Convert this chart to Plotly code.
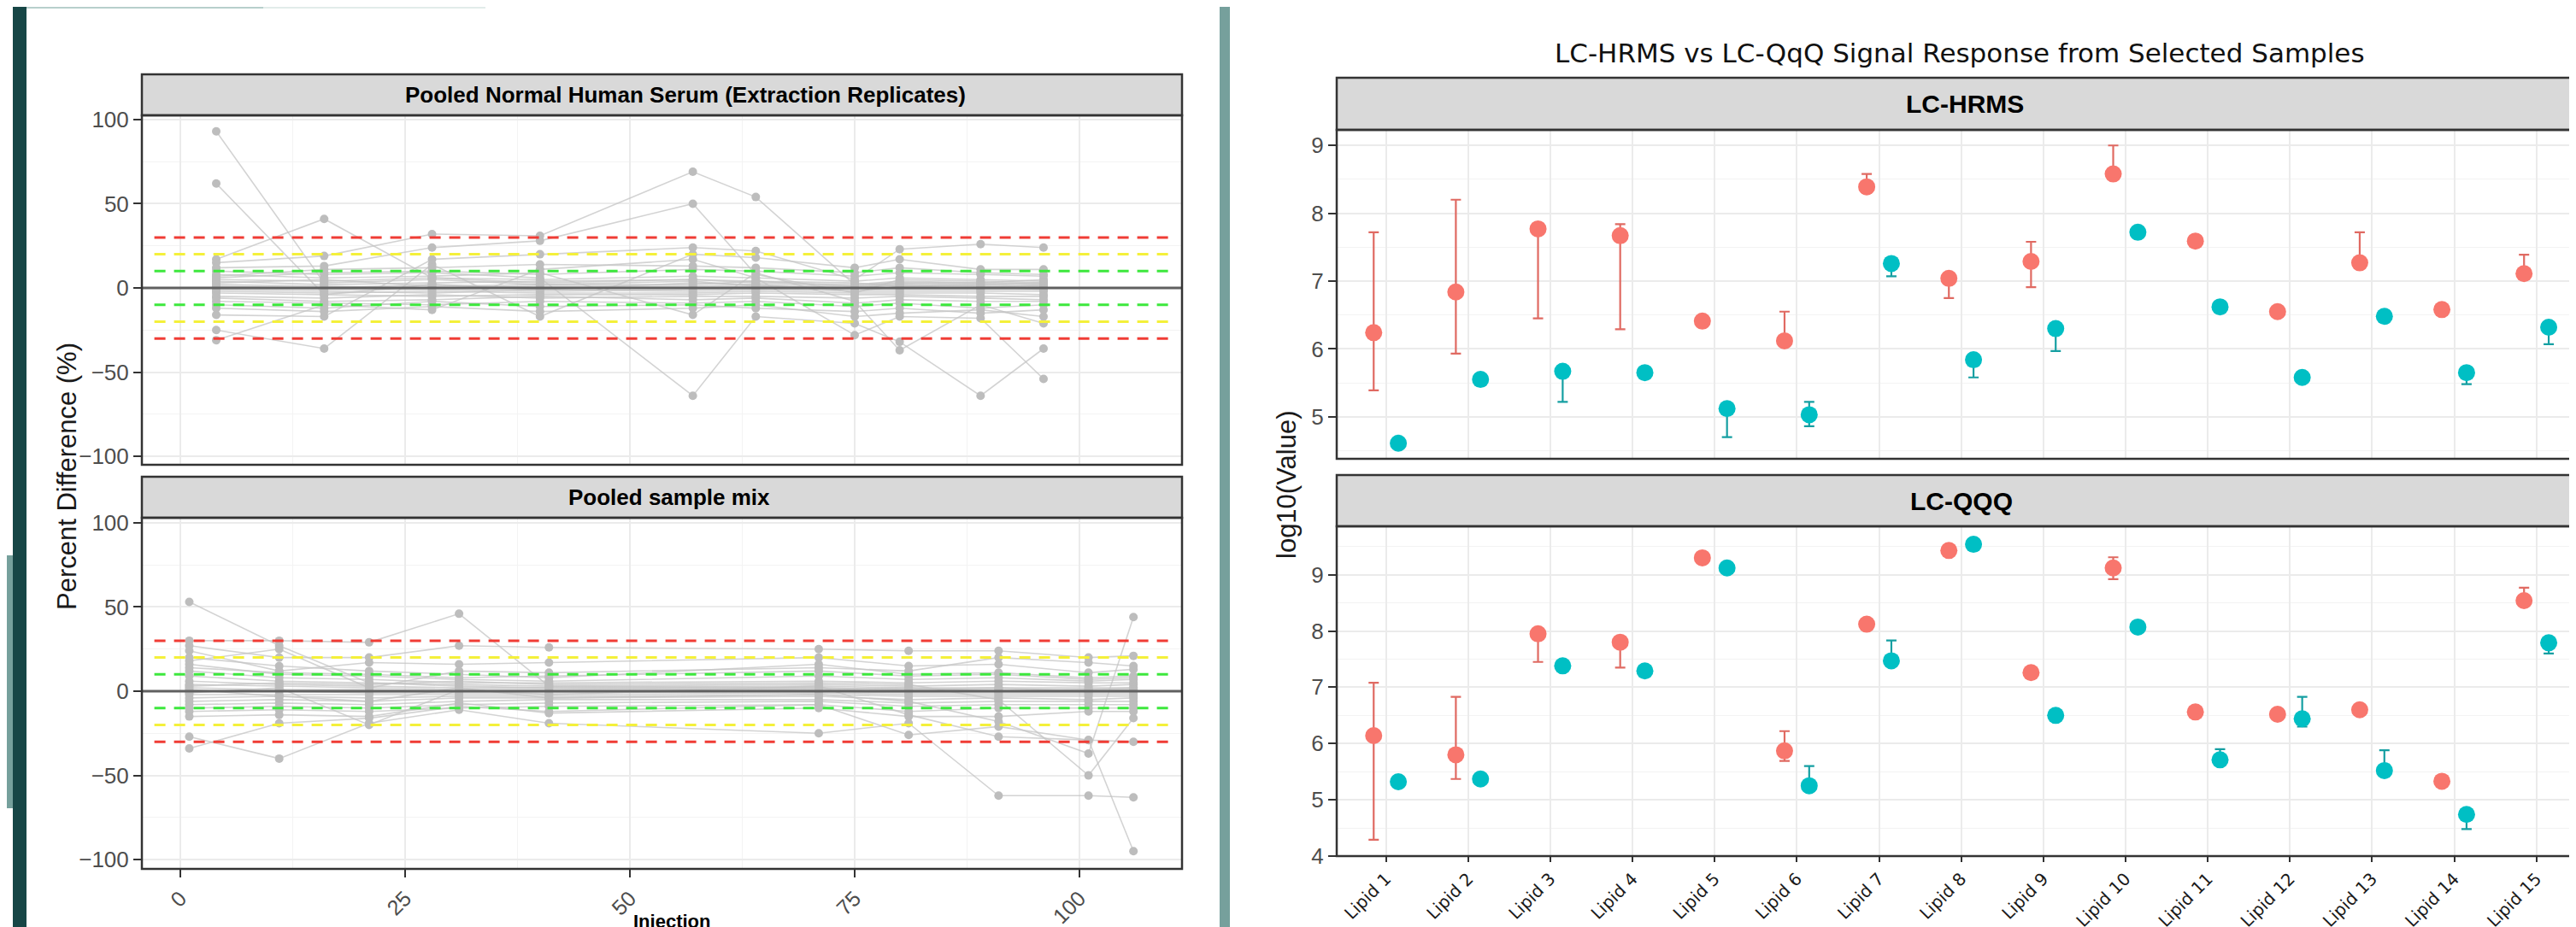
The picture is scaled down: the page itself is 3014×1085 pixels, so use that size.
import plotly.graph_objects as go

W, H = 3014, 1085


def fx(px):
    return px / W


def fy(py):
    return 1 - py / H


# ---------------- Left chart: percent difference by injection ----------------
serum_injection = [4, 16, 28, 40, 57, 64, 75, 80, 89, 96]
serum_series = [
    [93, 3, 5, 2, 4, 1, 0, 2, 1, -1],
    [62, -4, 2, -1, 3, 2, -2, 1, 0, 2],
    [17, 41, 6, 3, 5, 4, 1, 3, 2, 1],
    [15, 19, 32, 31, 69, 54, 2, 4, 3, 5],
    [12, 13, 24, 28, 50, 8, -3, 5, 4, 3],
    [-16, -17, 17, 20, 24, 22, 5, 23, 26, 24],
    [-25, -36, 14, -17, 20, 18, 12, 17, 11, 11],
    [-31, -10, -13, 11, 17, 6, -28, -17, -18, -54],
    [10, 8, 9, 6, -64, -17, -21, -32, -64, -36],
    [8, 6, 7, 9, -16, 9, -8, -37, -10, -21],
    [6, 9, 10, 8, 11, 10, 7, 9, 8, 7],
    [5, 4, 6, 5, 7, 6, 4, 6, 5, 4],
    [4, 2, 3, 4, 5, 3, 2, 3, 3, 2],
    [3, 5, 1, 2, 2, 4, 3, 1, 2, 3],
    [2, 1, 0, 1, 1, 2, 1, 2, 1, 1],
    [1, 0, 2, 0, 0, 1, 0, 0, 0, 0],
    [0, -1, -1, -2, -1, 0, -1, -1, -1, -1],
    [-1, -2, -3, -1, -2, -1, -2, -2, -2, -2],
    [-2, -3, -2, -3, -3, -2, -3, -3, -3, -4],
    [-3, -4, -5, -4, -4, -3, -4, -4, -5, -5],
    [-5, -6, -4, -6, -5, -5, -6, -5, -6, -7],
    [-6, -8, -7, -5, -7, -6, -9, -7, -8, -8],
    [-8, -9, -10, -8, -9, -8, -11, -9, -12, -10],
    [-10, -12, -8, -11, -10, -12, -14, -12, -15, -13],
    [-12, -14, -11, -14, -12, -10, -17, -15, -13, -17],
    [7, 11, 12, 14, 13, 12, 9, 12, 9, 8],
]

mix_injection = [1, 11, 21, 31, 41, 71, 81, 91, 101, 106]
mix_series = [
    [53, 27, 5, 3, 2, 1, 2, 0, 1, 2],
    [30, 30, 29, 46, 3, 2, 1, 2, 0, 1],
    [27, 20, 20, 27, 26, 25, 24, 24, 20, 21],
    [24, 12, 17, 16, 17, 20, 15, 16, 11, 13],
    [-27, -40, -19, -11, -19, -25, -19, -62, -62, -63],
    [-34, -19, -16, -9, -12, -8, -26, -21, -29, -95],
    [20, 15, 12, 10, 8, 16, 10, 11, 8, 9],
    [16, 10, 9, 7, 6, 9, 7, 8, 6, 7],
    [12, 8, 7, 5, 5, 6, 5, 6, 5, 5],
    [9, 6, 5, 4, 3, 4, 3, 4, 3, 4],
    [6, 4, 3, 2, 2, 3, 2, 2, 2, 2],
    [4, 3, 2, 1, 1, 2, 1, 1, 1, 1],
    [2, 1, 1, 0, 0, 1, 0, 0, 0, 0],
    [0, 0, -1, -1, -1, 0, -1, -1, -1, -1],
    [-2, -2, -2, -2, -2, -1, -2, -2, -2, -2],
    [-4, -3, -4, -3, -3, -2, -3, -3, -3, -3],
    [-6, -5, -6, -4, -4, -3, -5, -4, -5, -4],
    [-8, -7, -8, -6, -5, -5, -7, -6, -6, -6],
    [-10, -9, -10, -8, -7, -6, -9, -8, -8, -8],
    [-12, -11, -12, -10, -9, -8, -12, -10, -10, -10],
    [-15, -14, -15, -7, -13, -10, -15, -15, -12, -12],
    [3, 5, 4, 6, 4, 5, 4, -5, -50, -16],
    [1, -3, -6, 2, -4, -2, -6, -18, -37, 44],
    [14, 11, 10, 8, 9, 12, 9, 10, 7, 8],
    [-1, 2, -20, 1, -2, 3, -14, -27, -29, -30],
    [18, 25, 2, 12, 11, 14, 12, 20, 17, 15],
]

left_panels = ["Pooled Normal Human Serum (Extraction Replicates)", "Pooled sample mix"]
thresholds = [10, 20, 30]
threshold_colors = ["#3de83d", "#f4f03a", "#f03c35"]
left_x_ticks = [0, 25, 50, 75, 100]
left_y_ticks = [-100, -50, 0, 50, 100]

# ---------------- Right chart: signal response ----------------
lipids = ["Lipid 1", "Lipid 2", "Lipid 3", "Lipid 4", "Lipid 5", "Lipid 6", "Lipid 7", "Lipid 8",
          "Lipid 9", "Lipid 10", "Lipid 11", "Lipid 12", "Lipid 13", "Lipid 14", "Lipid 15"]
right_panels = ["LC-HRMS", "LC-QQQ"]

# LC-HRMS panel
hrms_a_mean = [6.24, 6.84, 7.77, 7.67, 6.41, 6.12, 8.39, 7.04, 7.29, 8.58, 7.59, 6.55, 7.27, 6.58, 7.11]
hrms_a_hi = [7.72, 8.20, 7.85, 7.84, 6.41, 6.55, 8.58, 7.10, 7.58, 9.00, 7.59, 6.55, 7.72, 6.58, 7.39]
hrms_a_lo = [5.39, 5.93, 6.45, 6.29, 6.41, 6.05, 8.30, 6.75, 6.91, 8.50, 7.59, 6.55, 7.20, 6.58, 7.05]
hrms_b_mean = [4.61, 5.55, 5.67, 5.65, 5.12, 5.03, 7.26, 5.84, 6.30, 7.72, 6.62, 5.58, 6.48, 5.65, 6.32]
hrms_b_hi = [4.61, 5.55, 5.72, 5.65, 5.20, 5.22, 7.30, 5.88, 6.33, 7.72, 6.62, 5.58, 6.48, 5.68, 6.35]
hrms_b_lo = [4.61, 5.55, 5.22, 5.65, 4.70, 4.86, 7.07, 5.58, 5.97, 7.72, 6.62, 5.58, 6.48, 5.48, 6.07]

# LC-QQQ panel
qqq_a_mean = [6.14, 5.80, 7.95, 7.80, 9.30, 5.87, 8.12, 9.43, 7.26, 9.12, 6.56, 6.52, 6.60, 5.33, 8.54]
qqq_a_hi = [7.08, 6.83, 8.00, 7.85, 9.30, 6.22, 8.12, 9.43, 7.26, 9.31, 6.56, 6.52, 6.70, 5.33, 8.77]
qqq_a_lo = [4.29, 5.37, 7.45, 7.35, 9.30, 5.69, 8.12, 9.43, 7.26, 8.92, 6.56, 6.52, 6.55, 5.33, 8.45]
qqq_b_mean = [5.32, 5.37, 7.38, 7.29, 9.12, 5.25, 7.47, 9.54, 6.50, 8.07, 5.71, 6.44, 5.52, 4.74, 7.79]
qqq_b_hi = [5.32, 5.37, 7.38, 7.29, 9.12, 5.60, 7.83, 9.54, 6.50, 8.07, 5.90, 6.83, 5.88, 4.78, 7.85]
qqq_b_lo = [5.32, 5.37, 7.38, 7.29, 9.12, 5.15, 7.40, 9.54, 6.50, 8.07, 5.62, 6.30, 5.45, 4.48, 7.60]

group_colors = ["#F8766D", "#00BFC4"]
errbar_colors = ["#e06a62", "#159fa2"]

# ---------------- Build figure ----------------
fig = go.Figure()

LINE_COL = "rgba(196,196,196,0.75)"
PT_COL = "#bdbdbd"

for panel_idx, (inj, series) in enumerate([(serum_injection, serum_series), (mix_injection, mix_series)]):
    xa = "x" if panel_idx == 0 else "x2"
    ya = "y" if panel_idx == 0 else "y2"
    for s in series:
        fig.add_trace(go.Scatter(x=inj, y=s, mode="lines", xaxis=xa, yaxis=ya,
                                 line=dict(color=LINE_COL, width=1.6), showlegend=False,
                                 hoverinfo="skip"))
    px_all, py_all = [], []
    for s in series:
        px_all += inj
        py_all += s
    fig.add_trace(go.Scatter(x=px_all, y=py_all, mode="markers", xaxis=xa, yaxis=ya,
                             marker=dict(color=PT_COL, size=10, line=dict(width=0)),
                             showlegend=False))

# right chart
dodge = 0.15
cat_pos = list(range(1, len(lipids) + 1))
right_data = [
    [(hrms_a_mean, hrms_a_hi, hrms_a_lo), (hrms_b_mean, hrms_b_hi, hrms_b_lo)],
    [(qqq_a_mean, qqq_a_hi, qqq_a_lo), (qqq_b_mean, qqq_b_hi, qqq_b_lo)],
]
for p, groups in enumerate(right_data):
    xa = "x3" if p == 0 else "x4"
    ya = "y3" if p == 0 else "y4"
    for g, (mean, hi, lo) in enumerate(groups):
        off = -dodge if g == 0 else dodge
        fig.add_trace(go.Scatter(
            x=[c + off for c in cat_pos], y=mean, mode="markers", xaxis=xa, yaxis=ya,
            marker=dict(color=group_colors[g], size=20, line=dict(width=0)),
            error_y=dict(type="data", symmetric=False,
                         array=[h - m for h, m in zip(hi, mean)],
                         arrayminus=[m - l for m, l in zip(mean, lo)],
                         color=errbar_colors[g], thickness=2.2, width=6),
            showlegend=False, text=lipids))

# ---------------- Layout ----------------
TICK_FONT = dict(family="Liberation Sans, Arial, sans-serif", size=26, color="#4d4d4d")
GRID = "#ebebeb"
MINOR_GRID = "#f3f3f3"

L_X0, L_X1 = 158, 1375
L_P1 = (127, 536)
L_P2 = (598, 1009)
R_X0 = 1556
R_P1 = (144, 529)
R_P2 = (608, 994)

left_xrange = [-4.27, 111.4]
common_x_left = dict(range=left_xrange, tickmode="array", tickvals=left_x_ticks,
                     showgrid=True, gridcolor=GRID, gridwidth=2, zeroline=False,
                     minor=dict(tickmode="array", tickvals=[12.5, 37.5, 62.5, 87.5],
                                showgrid=True, gridcolor=MINOR_GRID, gridwidth=1),
                     showline=False, automargin=False,
                     domain=[fx(L_X0), fx(L_X1)])
common_y_left = dict(tickmode="array", tickvals=left_y_ticks, showgrid=True, gridcolor=GRID,
                     gridwidth=2, zeroline=False,
                     minor=dict(tickmode="array", tickvals=[-75, -25, 25, 75], showgrid=True,
                                gridcolor=MINOR_GRID, gridwidth=1),
                     ticks="outside", ticklen=9, tickwidth=2, tickcolor="#333333",
                     tickfont=TICK_FONT, showline=False, automargin=False)

fig.update_layout(
    xaxis=dict(**common_x_left, anchor="y", showticklabels=False, ticks=""),
    yaxis=dict(**common_y_left, anchor="x", range=[-105, 102.5], domain=[fy(L_P1[1]), fy(L_P1[0])]),
    xaxis2=dict(**common_x_left, anchor="y2", showticklabels=True, ticks="outside", ticklen=9,
                tickwidth=2, tickcolor="#333333", tickangle=-45,
                tickfont=dict(family="Liberation Sans, Arial, sans-serif", size=25, color="#4d4d4d")),
    yaxis2=dict(**common_y_left, anchor="x2", range=[-105.5, 103], domain=[fy(L_P2[1]), fy(L_P2[0])]),
)

right_xrange = [0.4, 0.4 + (W - R_X0) / 96.14]
common_x_right = dict(range=right_xrange, tickmode="array", tickvals=cat_pos, ticktext=lipids,
                      showgrid=True, gridcolor=GRID, gridwidth=1.5, zeroline=False, showline=False,
                      automargin=False, domain=[fx(R_X0), 1.0])
common_y_right = dict(tickmode="linear", dtick=1, showgrid=True, gridcolor=GRID, gridwidth=2,
                      zeroline=False,
                      minor=dict(dtick=0.5, showgrid=True, gridcolor=MINOR_GRID, gridwidth=1.2),
                      ticks="outside", ticklen=9, tickwidth=2, tickcolor="#333333",
                      tickfont=TICK_FONT, showline=False, automargin=False)
fig.update_layout(
    xaxis3=dict(**common_x_right, anchor="y3", showticklabels=False, ticks=""),
    yaxis3=dict(**common_y_right, anchor="x3", tick0=5, range=[4.38, 9.23],
                domain=[fy(R_P1[1]), fy(R_P1[0])]),
    xaxis4=dict(**common_x_right, anchor="y4", showticklabels=True, ticks="outside", ticklen=6,
                tickwidth=2, tickcolor="#333333", tickangle=-45,
                tickfont=dict(family="DejaVu Sans, sans-serif", size=20, color="#1a1a1a")),
    yaxis4=dict(**common_y_right, anchor="x4", tick0=4, range=[4.0, 9.86],
                domain=[fy(R_P2[1]), fy(R_P2[0])]),
)

shapes = []
# page decorations
shapes.append(dict(type="rect", xref="paper", yref="paper", x0=fx(7), x1=fx(23), y0=0, y1=1,
                   fillcolor="#174646", line=dict(width=0), layer="below"))
shapes.append(dict(type="rect", xref="paper", yref="paper", x0=0, x1=fx(7), y0=fy(938), y1=fy(642),
                   fillcolor="#76a09c", line=dict(width=0), layer="below"))
shapes.append(dict(type="rect", xref="paper", yref="paper", x0=fx(1419), x1=fx(1431), y0=0, y1=1,
                   fillcolor="#76a09c", line=dict(width=0), layer="below"))
shapes.append(dict(type="rect", xref="paper", yref="paper", x0=fx(23), x1=fx(300), y0=fy(2), y1=1,
                   fillcolor="#b7cfcc", line=dict(width=0), layer="below"))
shapes.append(dict(type="rect", xref="paper", yref="paper", x0=fx(300), x1=fx(560), y0=fy(2), y1=1,
                   fillcolor="#e2ecea", line=dict(width=0), layer="below"))

# threshold lines and zero line on left panels
for ya, xa in [("y", "x"), ("y2", "x2")]:
    for t, c in zip(thresholds, threshold_colors):
        for sign in (1, -1):
            shapes.append(dict(type="line", xref=f"{xa} domain", yref=ya, x0=0.012, x1=0.99,
                               y0=sign * t, y1=sign * t, layer="above",
                               line=dict(color=c, width=3, dash="13px,10px")))
    shapes.append(dict(type="line", xref=f"{xa} domain", yref=ya, x0=0, x1=1, y0=0, y1=0,
                       layer="above", line=dict(color="#606060", width=3)))

BORDER = dict(color="#333333", width=2.5)
STRIP_FILL = "#d9d9d9"
# left strips & borders
for (top, bot), strip in [(L_P1, (79, 127)), (L_P2, (550, 598))]:
    shapes.append(dict(type="rect", xref="paper", yref="paper", x0=fx(L_X0), x1=fx(L_X1),
                       y0=fy(strip[1]), y1=fy(strip[0]), fillcolor=STRIP_FILL, line=BORDER,
                       layer="above"))
    shapes.append(dict(type="rect", xref="paper", yref="paper", x0=fx(L_X0), x1=fx(L_X1),
                       y0=fy(bot), y1=fy(top), line=BORDER, layer="above"))
# right strips & borders
for (top, bot), strip in [(R_P1, (83, 144)), (R_P2, (548, 608))]:
    shapes.append(dict(type="rect", xref="paper", yref="paper", x0=fx(R_X0), x1=1.01,
                       y0=fy(strip[1]), y1=fy(strip[0]), fillcolor=STRIP_FILL, line=BORDER,
                       layer="above"))
    shapes.append(dict(type="rect", xref="paper", yref="paper", x0=fx(R_X0), x1=1.01,
                       y0=fy(bot), y1=fy(top), line=BORDER, layer="above"))

STRIP_FONT = dict(family="Liberation Sans, Arial, sans-serif", size=26, color="black", weight="bold")
annotations = [
    dict(text=left_panels[0], x=fx(794), y=fy(103), xref="paper", yref="paper", showarrow=False,
         font=STRIP_FONT, xanchor="center", yanchor="middle"),
    dict(text=left_panels[1], x=fx(775), y=fy(574), xref="paper", yref="paper", showarrow=False,
         font=STRIP_FONT, xanchor="center", yanchor="middle"),
    dict(text=right_panels[0], x=fx(2291), y=fy(113.5), xref="paper", yref="paper", showarrow=False,
         font=dict(family="Liberation Sans, Arial, sans-serif", size=30, color="black", weight="bold"),
         xanchor="center", yanchor="middle"),
    dict(text=right_panels[1], x=fx(2287), y=fy(578), xref="paper", yref="paper", showarrow=False,
         font=dict(family="Liberation Sans, Arial, sans-serif", size=30, color="black", weight="bold"),
         xanchor="center", yanchor="middle"),
    dict(text="Percent Difference (%)", x=fx(70), y=fy(550), xref="paper", yref="paper",
         showarrow=False, textangle=-90,
         font=dict(family="Liberation Sans, Arial, sans-serif", size=31, color="#1a1a1a"),
         xanchor="center", yanchor="middle"),
    dict(text="Injection", x=fx(778), y=fy(1084), xref="paper", yref="paper", showarrow=False,
         font=dict(family="Liberation Sans, Arial, sans-serif", size=22, color="black", weight="bold"),
         xanchor="center", yanchor="bottom", borderpad=0),
    dict(text="log10(Value)", x=fx(1497), y=fy(560), xref="paper", yref="paper", showarrow=False,
         textangle=-90,
         font=dict(family="Liberation Sans, Arial, sans-serif", size=31, color="#1a1a1a"),
         xanchor="center", yanchor="middle"),
    dict(text="LC-HRMS vs LC-QqQ Signal Response from Selected Samples", x=fx(2285), y=fy(54),
         xref="paper", yref="paper", showarrow=False,
         font=dict(family="DejaVu Sans, sans-serif", size=31, color="#111111"),
         xanchor="center", yanchor="middle"),
]

fig.update_layout(
    width=W, height=H, margin=dict(l=0, r=0, t=0, b=0),
    paper_bgcolor="white", plot_bgcolor="white",
    shapes=shapes, annotations=annotations, showlegend=False,
)

fig.write_html("out.html")
